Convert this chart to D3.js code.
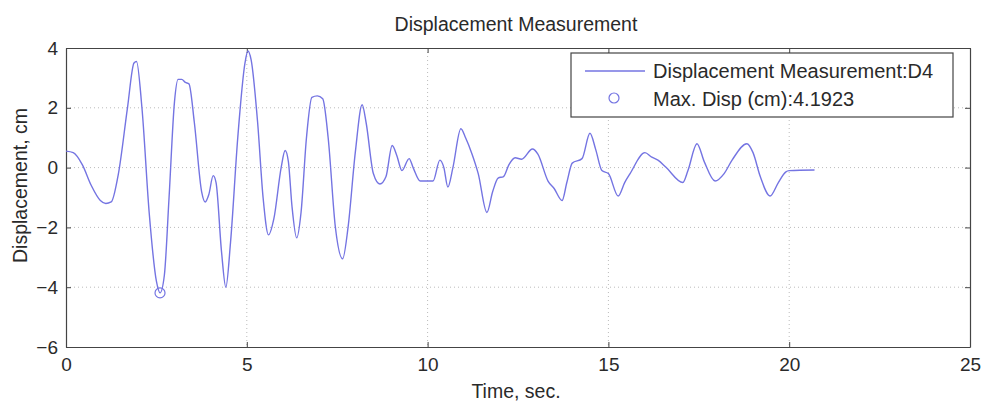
<!DOCTYPE html>
<html>
<head>
<meta charset="utf-8">
<script src="https://cdn.jsdelivr.net/npm/d3@7"></script>
<style>
  body { margin: 0; background: #fff; }
  svg { font-family: 'Liberation Sans', Arial, sans-serif; }
</style>
</head>
<body>
<svg id="chart" width="985" height="403"></svg>
<script>
// time (s) and displacement (cm)
var times = [0, 0.2, 0.45, 0.7, 0.95, 1.1, 1.25, 1.45, 1.7, 1.88, 1.95, 2.1, 2.3, 2.5, 2.6, 2.72, 2.85, 3.0, 3.1, 3.2, 3.3, 3.4, 3.55, 3.75, 3.85, 3.95, 4.07, 4.15, 4.3, 4.42, 4.55, 4.75, 4.95, 5.03, 5.12, 5.3, 5.45, 5.6, 5.75, 5.95, 6.06, 6.15, 6.25, 6.38, 6.5, 6.65, 6.8, 6.95, 7.1, 7.25, 7.45, 7.65, 7.8, 8.0, 8.19, 8.3, 8.5, 8.68, 8.85, 9.02, 9.15, 9.29, 9.49, 9.6, 9.8, 10.0, 10.15, 10.34, 10.45, 10.56, 10.7, 10.92, 11.05, 11.23, 11.4, 11.64, 11.8, 11.95, 12.1, 12.25, 12.42, 12.6, 12.9, 13.05, 13.33, 13.5, 13.72, 13.85, 14.0, 14.27, 14.49, 14.65, 14.82, 15.0, 15.27, 15.45, 15.6, 16.01, 16.2, 16.37, 16.6, 17.06, 17.2, 17.45, 17.65, 17.95, 18.2, 18.42, 18.83, 19.0, 19.2, 19.47, 19.7, 19.9, 20.0, 20.7];
var disp = [0.55, 0.5, 0.1, -0.6, -1.1, -1.2, -1.15, -0.2, 2.0, 3.5, 3.55, 2.0, -1.5, -3.8, -4.19, -3.6, -1.0, 2.2, 2.95, 2.95, 2.85, 2.8, 1.5, -0.8, -1.15, -0.9, -0.27, -0.5, -2.8, -4.0, -2.5, 1.0, 3.5, 3.9, 3.6, 1.5, -1.0, -2.25, -1.7, 0.0, 0.57, 0.2, -1.3, -2.35, -1.5, 1.0, 2.35, 2.4, 2.3, 1.0, -2.0, -3.05, -2.0, 0.5, 2.1, 1.5, -0.2, -0.55, -0.3, 0.74, 0.4, -0.1, 0.3, 0.0, -0.45, -0.45, -0.45, 0.25, 0.0, -0.65, 0.0, 1.3, 1.0, 0.45, -0.2, -1.5, -0.8, -0.35, -0.3, 0.1, 0.33, 0.28, 0.62, 0.45, -0.45, -0.7, -1.1, -0.5, 0.15, 0.3, 1.15, 0.6, -0.1, -0.2, -0.95, -0.5, -0.2, 0.5, 0.35, 0.25, 0.0, -0.5, -0.1, 0.8, 0.2, -0.45, -0.2, 0.25, 0.8, 0.5, -0.3, -0.95, -0.5, -0.15, -0.1, -0.08];
var maxPoint = { t: 2.6, v: -4.19 };
var xTicks = [0, 5, 10, 15, 20, 25];
var yTicks = [-6, -4, -2, 0, 2, 4];
var legendLabels = ['Displacement Measurement:D4', 'Max. Disp (cm):4.1923'];

var data = times.map(function (t, i) {
  return { t: t, v: disp[i] };
});

var svg = d3.select('#chart');
var margins = { top: 48, right: 15, bottom: 56, left: 66 };
var width = 985 - margins.left - margins.right;
var height = 403 - margins.top - margins.bottom;
var lineColor = '#7474e2';
var axisColor = '#444';
var textColor = '#2a2a2a';

var g = svg.append('g').attr('transform', 'translate(' + margins.left + ',' + margins.top + ')');

var x = d3.scaleLinear().domain([0, 25]).range([0, width]);
var y = d3.scaleLinear().domain([-6, 4]).range([height, 0]);

// grid
g.append('g').selectAll('line').data(xTicks.slice(1, -1)).enter().append('line')
  .attr('x1', function (d) { return x(d); }).attr('x2', function (d) { return x(d); })
  .attr('y1', 0).attr('y2', height)
  .attr('stroke', '#bbb').attr('stroke-dasharray', '1,3');
g.append('g').selectAll('line').data(yTicks.slice(1, -1)).enter().append('line')
  .attr('y1', function (d) { return y(d); }).attr('y2', function (d) { return y(d); })
  .attr('x1', 0).attr('x2', width)
  .attr('stroke', '#bbb').attr('stroke-dasharray', '1,3');

// axes (ticks inside the box)
var xAxis = d3.axisBottom(x).tickValues(xTicks).tickSizeInner(-5).tickSizeOuter(0).tickPadding(11);
var yAxis = d3.axisLeft(y).tickValues(yTicks).tickSizeInner(-5).tickSizeOuter(0).tickPadding(8);
var xAxisTop = d3.axisTop(x).tickValues(xTicks).tickSizeInner(-5).tickSizeOuter(0).tickFormat('');
var yAxisRight = d3.axisRight(y).tickValues(yTicks).tickSizeInner(-5).tickSizeOuter(0).tickFormat('');

g.append('g').attr('class', 'x-axis').attr('transform', 'translate(0,' + height + ')').call(xAxis);
g.append('g').attr('class', 'y-axis').call(yAxis);
g.append('g').attr('class', 'x-axis-top').call(xAxisTop);
g.append('g').attr('class', 'y-axis-right').attr('transform', 'translate(' + width + ',0)').call(yAxisRight);

g.selectAll('.domain').attr('stroke', axisColor).attr('stroke-width', 1.2);
g.selectAll('.tick line').attr('stroke', axisColor);
g.selectAll('.tick text').attr('fill', textColor).style('font-size', '19px');

// data line
var line = d3.line()
  .x(function (d) { return x(d.t); })
  .y(function (d) { return y(d.v); })
  .curve(d3.curveMonotoneX);

g.append('path').datum(data)
  .attr('d', line)
  .attr('fill', 'none')
  .attr('stroke', lineColor)
  .attr('stroke-width', 1.4);

g.append('circle')
  .attr('cx', x(maxPoint.t)).attr('cy', y(maxPoint.v)).attr('r', 5)
  .attr('fill', 'none').attr('stroke', lineColor).attr('stroke-width', 1.2);

// title and labels
svg.append('text').attr('x', 516).attr('y', 31)
  .attr('text-anchor', 'middle').style('font-size', '19.5px').attr('fill', textColor)
  .text('Displacement Measurement');
svg.append('text').attr('x', 516).attr('y', 398)
  .attr('text-anchor', 'middle').style('font-size', '19.5px').attr('fill', textColor)
  .text('Time, sec.');
svg.append('text').attr('transform', 'translate(27,' + (margins.top + height / 2 - 12) + ') rotate(-90)')
  .attr('text-anchor', 'middle').style('font-size', '19.5px').attr('fill', textColor)
  .text('Displacement, cm');

// legend
var legend = svg.append('g').attr('transform', 'translate(571,53)');
legend.append('rect').attr('width', 382).attr('height', 64)
  .attr('fill', '#fff').attr('stroke', axisColor).attr('stroke-width', 1.2);
legend.append('line').attr('x1', 14).attr('x2', 74).attr('y1', 18).attr('y2', 18)
  .attr('stroke', lineColor).attr('stroke-width', 1.4);
legend.append('circle').attr('cx', 43).attr('cy', 45).attr('r', 5)
  .attr('fill', 'none').attr('stroke', lineColor).attr('stroke-width', 1.2);
legend.selectAll('text.lbl').data(legendLabels).enter().append('text')
  .attr('class', 'lbl')
  .attr('x', 82).attr('y', function (d, i) { return 25 + i * 28; })
  .style('font-size', '20px').attr('fill', textColor)
  .text(function (d) { return d; });
</script>
</body>
</html>
